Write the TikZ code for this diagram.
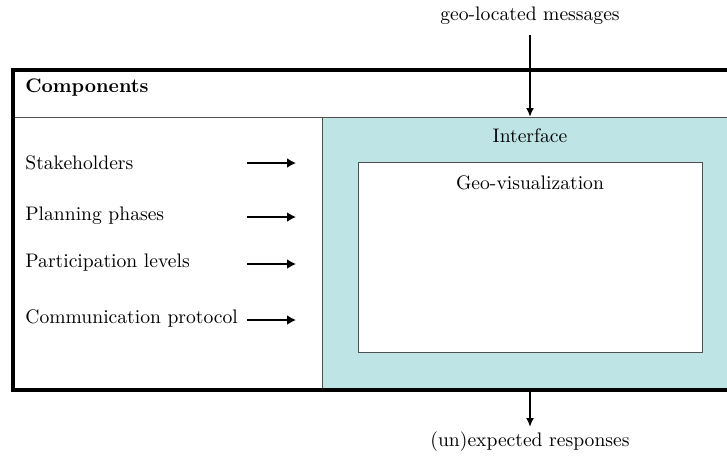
\documentclass[tikz,border=0pt]{standalone}
\usetikzlibrary{arrows.meta,positioning}
\definecolor{ifcyan}{RGB}{190,228,230}
\definecolor{boxgray}{RGB}{80,80,80}

\begin{document}
\begin{tikzpicture}[
        x=0.5pt, y=-0.5pt,
        font=\fontsize{9.8}{11.5}\selectfont,
        label/.style={anchor=west, inner sep=0pt},
        region/.style={
            draw=boxgray, fill=ifcyan, anchor=north west,
            minimum width=210pt, minimum height=136pt, inner sep=0pt
        },
        viewbox/.style={
            draw=boxgray, fill=white, anchor=north west,
            minimum width=172pt, minimum height=95pt, inner sep=0pt
        },
        arrow/.style={-{Latex[length=4.5pt,width=5pt]}, line width=1.2pt},
        flow/.style={-{Latex[length=4.5pt,width=4pt]}, line width=1pt}
        ]

        \clip (0,0) rectangle (727,457);

        % --- Interface region ---
        \node[region] (interface) at (322,117) {};
        \node[viewbox] (geovis) at (358,162) {};
        \node (iflabel) at (530,136) {Interface};
        \node (gvlabel) at (530,183) {Geo-visualization};

        % --- Outer frame ---
        \draw[boxgray, line width=0.5pt] (13,117) -- (745,117);
        \draw[line width=1.6pt] (13,70) rectangle (745,390);
        \node[label, font=\fontsize{9.8}{11.5}\selectfont\bfseries] (comp) at (25,88) {Components};

        % --- Components ---
        \node[label] (stake) at (25,163) {Stakeholders};
        \node[label] (phases) at (25,216) {Planning phases};
        \node[label] (levels) at (25,263) {Participation levels};
        \node[label] (proto) at (25,318) {Communication protocol};

        \coordinate (s1) at (247,163);  \coordinate (e1) at (296,163);
        \coordinate (s2) at (247,217);  \coordinate (e2) at (296,217);
        \coordinate (s3) at (247,264);  \coordinate (e3) at (296,264);
        \coordinate (s4) at (247,320);  \coordinate (e4) at (296,320);

        % --- Arrows ---
        \draw[arrow] (s1) -- (e1);
        \draw[arrow] (s2) -- (e2);
        \draw[arrow] (s3) -- (e3);
        \draw[arrow] (s4) -- (e4);

        % --- In and out ---
        \node (msgs) at (530,16) {geo-located messages};
        \node (resp) at (530,442) {(un)expected responses};
        \coordinate (msgstart) at (530,35);
        \coordinate (respend) at (530,427);
        \draw[flow] (msgstart) -- (interface.north -| msgstart);
        \draw[flow] (interface.south -| respend) -- (respend);

\end{tikzpicture}
\end{document}
